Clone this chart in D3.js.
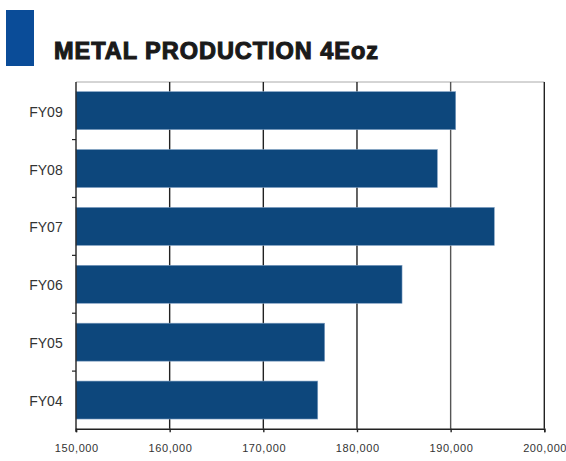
<!DOCTYPE html>
<html><head><meta charset="utf-8">
<script src="https://cdn.jsdelivr.net/npm/d3@7"></script>
<style>
html,body{margin:0;padding:0;background:#fff;}
svg{display:block;}
</style></head>
<body>
<svg id="chart" width="566" height="461"></svg>
<script>
const categories = ["FY09","FY08","FY07","FY06","FY05","FY04"];
const production = [190540, 188580, 194660, 184810, 176550, 175810];
const tickValues = [150000,160000,170000,180000,190000,200000];
const titleText = "METAL PRODUCTION 4Eoz";

const svg = d3.select("#chart");
const m = {left:76, right:544.3, top:82, bottom:428.7};

const x = d3.scaleLinear().domain([150000,200000]).range([m.left, m.right]);
const y = d3.scaleBand().domain(categories).range([m.top, m.bottom]).paddingInner(0.344).paddingOuter(0.167);

// Title block
svg.append("rect").attr("x",6).attr("y",10).attr("width",28).attr("height",56).attr("fill","#0a4c98");
svg.append("text").attr("x",54).attr("y",59.3).text(titleText)
  .attr("font-family","Liberation Sans, Arial, sans-serif").attr("font-weight","900")
  .attr("font-size",23.5).attr("fill","#1a1a1a")
  .attr("textLength",324).attr("lengthAdjust","spacing")
  .style("stroke","#1a1a1a").style("stroke-width",1.1);

// top border
svg.append("line").attr("x1",m.left).attr("x2",m.right).attr("y1",m.top).attr("y2",m.top)
  .attr("stroke","#aaa").attr("stroke-width",1);

// gridlines
svg.append("g").selectAll("line").data(tickValues.slice(1)).join("line")
  .attr("x1",d=>x(d)).attr("x2",d=>x(d)).attr("y1",m.top).attr("y2",m.bottom)
  .attr("stroke",(d,i)=> d===190000 ? "#555" : "#222").attr("stroke-width",1.4);

// bars
svg.append("g").selectAll("rect").data(categories).join("rect")
  .attr("x",x(150000)).attr("y",d=>y(d))
  .attr("width",(d,i)=>x(production[i])-x(150000)).attr("height",y.bandwidth())
  .attr("fill","#0d477c").attr("stroke","#7f9fc2").attr("stroke-width",0.6);

// x axis
const xAxis = svg.append("g").attr("transform",`translate(0,${m.bottom})`)
  .call(d3.axisBottom(x).tickValues(tickValues).tickFormat(d3.format(",")).tickSizeOuter(0).tickSize(3.5));
xAxis.select(".domain").attr("stroke","#222").attr("stroke-width",1.4);
xAxis.selectAll(".tick line").attr("stroke","#222").attr("stroke-width",1.4);
xAxis.selectAll("text").attr("y",23).attr("dy",0).attr("dx",0.3)
  .attr("font-family","Liberation Sans, Arial, sans-serif").attr("font-size",11)
  .attr("letter-spacing",0.6).attr("fill","#333");

// y axis
const yAxisG = svg.append("g").attr("transform",`translate(${m.left},0)`);
yAxisG.append("line").attr("x1",0).attr("x2",0).attr("y1",m.top).attr("y2",m.bottom+3)
  .attr("stroke","#222").attr("stroke-width",1.4);
const step = y.step();
const boundaries = categories.slice(1).map(c => y(c) - y.paddingInner()*step/2);
yAxisG.selectAll(".bt").data(boundaries).join("line").attr("class","bt")
  .attr("x1",-4).attr("x2",0).attr("y1",d=>d).attr("y2",d=>d).attr("stroke","#222").attr("stroke-width",1.2);
yAxisG.selectAll(".lab").data(categories).join("text").attr("class","lab")
  .attr("x",-13.3).attr("y",d=>y(d)+y.bandwidth()/2).attr("dy","0.43em")
  .attr("text-anchor","end").attr("font-family","Liberation Sans, Arial, sans-serif")
  .attr("font-size",14).attr("fill","#333").text(d=>d);
</script>
</body></html>
